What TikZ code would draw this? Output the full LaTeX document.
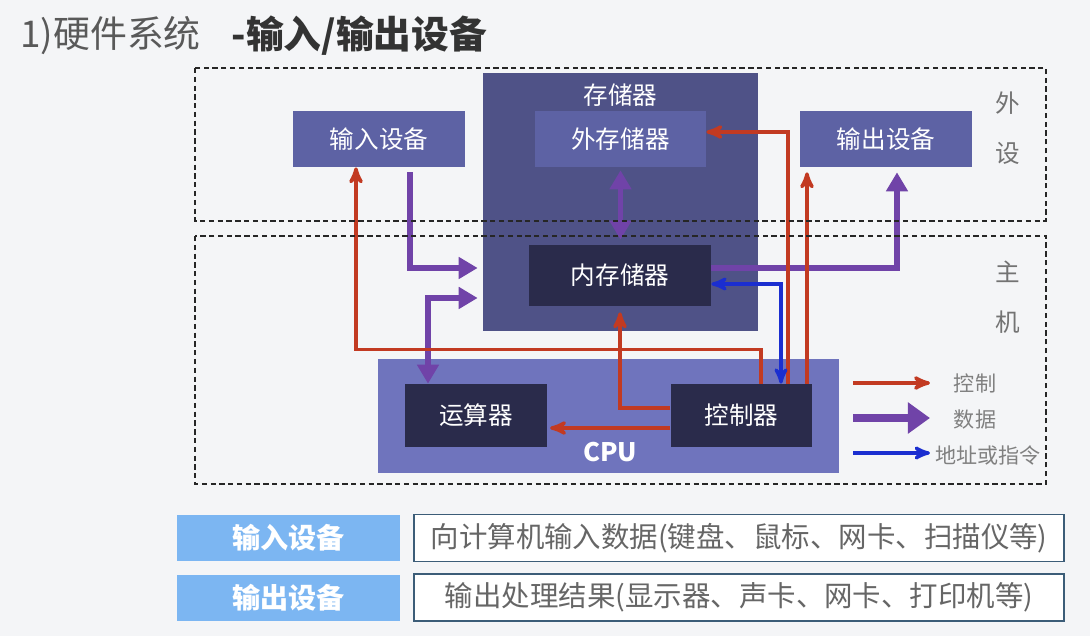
\documentclass[tikz,border=0pt]{standalone}
\usepackage{fontspec}
\setmainfont{Noto Sans CJK SC}
\usepackage{tikz}
\usetikzlibrary{positioning, arrows, arrows.meta}

\definecolor{bgcol}{HTML}{F4F5F7}
\definecolor{storecol}{HTML}{4F5287}
\definecolor{iocol}{HTML}{5D62A4}
\definecolor{corecol}{HTML}{2A2B4B}
\definecolor{cpucol}{HTML}{6F74BD}
\definecolor{ctlcol}{HTML}{C23A22}
\definecolor{datcol}{HTML}{7043A8}
\definecolor{adrcol}{HTML}{1B2ED0}
\definecolor{tagcol}{HTML}{7CB6F2}
\definecolor{notecol}{HTML}{3C5D78}

\tikzset{
  >=stealth',
  fat/.tip={Triangle[width=0.42cm, length=0.38cm]},
  wide/.tip={Triangle[width=0.6cm, length=0.44cm]},
  every node/.style={inner sep=0pt},
  titlelbl/.style={text=black!65, font=\fontsize{21}{24}\selectfont},
  storebox/.style={rectangle, fill=storecol, minimum width=5.5cm, minimum height=5.16cm},
  iobox/.style={rectangle, fill=iocol, text=white, minimum width=3.44cm, minimum height=1.12cm, font=\fontsize{14}{16}\selectfont},
  corebox/.style={rectangle, fill=corecol, text=white, minimum width=2.83cm, minimum height=1.26cm, font=\fontsize{14}{16}\selectfont},
  cpubox/.style={rectangle, fill=cpucol, minimum width=9.22cm, minimum height=2.28cm},
  whitelbl/.style={text=white, font=\fontsize{14}{16}\selectfont},
  ctl/.style={draw=ctlcol, line width=2pt, ->},
  dat/.style={draw=datcol, line width=3.2pt, -fat},
  adr/.style={draw=adrcol, line width=1.9pt, <->},
  region/.style={draw=black!85, line width=1.7pt, dash pattern=on 3pt off 2pt},
  sidelbl/.style={text=black!55, font=\fontsize{14}{16}\selectfont},
  legendlbl/.style={text=black!50, font=\fontsize{12}{14}\selectfont},
  tagbox/.style={rectangle, fill=tagcol, text=white, minimum width=4.46cm, minimum height=0.92cm, font=\bfseries\fontsize{16}{18}\selectfont},
  notebox/.style={rectangle, draw=notecol, line width=1pt, fill=white, text=black!60, minimum width=13cm, minimum height=0.94cm, font=\fontsize{16.2}{18}\selectfont},
}

\begin{document}
\begin{tikzpicture}[x=0.02cm, y=-0.02cm]
  % background
  \fill[bgcol] (0,0) rectangle (1090,636);
  \useasboundingbox (0,0) rectangle (1090,636);

  % title
  \node[titlelbl, anchor=west] (t1) at (20,36) {1)硬件系统};
  \node[titlelbl, right=0.6cm of t1, text=black!80, font=\bfseries\fontsize{21.5}{24}\selectfont] (t2) {-输入/输出设备};

  % units
  \node[storebox] (mem) at (620.5,202) {};
  \node[whitelbl] (memlbl) at (620.5,95) {存储器};
  \node[iobox, minimum width=3.42cm] (ext) at (620.5,139) {外存储器};
  \node[corebox, minimum width=3.64cm, minimum height=1.22cm] (int) at (620,275.5) {内存储器};
  \node[iobox] (in) at (379,139) {输入设备};
  \node[iobox] (out) at (886,139) {输出设备};
  \node[cpubox] (cpu) at (608.5,416) {};
  \node[corebox] (alu) at (476,415.5) {运算器};
  \node[corebox] (cu) at (741.5,415.5) {控制器};
  \node[whitelbl, font=\bfseries\fontsize{14.5}{16}\selectfont] (cpulbl) at (610,452) {CPU};

  % data
  \draw[dat, shorten <=0.1cm, shorten >=0.1cm] ([xshift=0.62cm]in.south) |- ([yshift=-1.32cm]mem.west);
  \draw[dat, fat-fat, shorten <=0.1cm] ([yshift=-1.92cm]mem.west) -| ([xshift=-0.96cm]alu.north);
  \draw[dat, fat-fat, shorten <=0.06cm, shorten >=0.1cm] (ext.south) -- (ext.south |- int.north);
  \draw[dat, shorten >=0.1cm] ([yshift=0.15cm]int.east) -| ([xshift=0.22cm]out.south);

  % control
  \draw[ctl] ([xshift=0.39cm]cu.north) -- ++(0,0.68cm) -| ([xshift=-0.46cm]in.south);
  \draw[ctl] ([xshift=0.93cm]cu.north) |- ([yshift=0.14cm]ext.east);
  \draw[ctl, shorten >=0.1cm] ([xshift=1.31cm]cu.north) -- ([xshift=1.31cm]cu.north |- out.south);
  \draw[ctl, shorten >=0.12cm] ([yshift=0.15cm]cu.west) -| (int.south);
  \draw[ctl, shorten >=0.06cm] ([yshift=-0.25cm]cu.west) -- ([yshift=-0.25cm]cu.west -| alu.east);

  % address
  \draw[adr] ([yshift=-0.17cm]int.east) -| ([xshift=0.79cm]cu.north);

  % regions
  \draw[region] (195,68) rectangle (1046,221);
  \draw[region] (195,236) rectangle (1046,484);
  \node[sidelbl] (wai) at (1008,103) {外};
  \node[sidelbl] (she) at (1008,153) {设};
  \node[sidelbl] (zhu) at (1008,272) {主};
  \node[sidelbl] (ji) at (1008,322) {机};

  % legend
  \coordinate (lc) at (853,383);
  \coordinate (ld) at (853,418);
  \coordinate (la) at (853,453);
  \draw[ctl] (lc) -- +(1.54cm,0);
  \draw[dat, line width=4.5pt, -wide] (ld) -- +(1.54cm,0);
  \draw[adr, ->] (la) -- +(1.54cm,0);
  \node[legendlbl] (lctl) at (975,383) {控制};
  \node[legendlbl] (ldat) at (975,420) {数据};
  \node[legendlbl] (ladr) at (988,455) {地址或指令};

  % table
  \node[tagbox] (tagin) at (288.5,538) {输入设备};
  \node[tagbox, below=0.26cm of tagin] (tagout) {输出设备};
  \node[notebox, right=0.26cm of tagin] (notein) {向计算机输入数据(键盘、鼠标、网卡、扫描仪等)};
  \node[notebox, right=0.26cm of tagout] (noteout) {输出处理结果(显示器、声卡、网卡、打印机等)};
\end{tikzpicture}
\end{document}
